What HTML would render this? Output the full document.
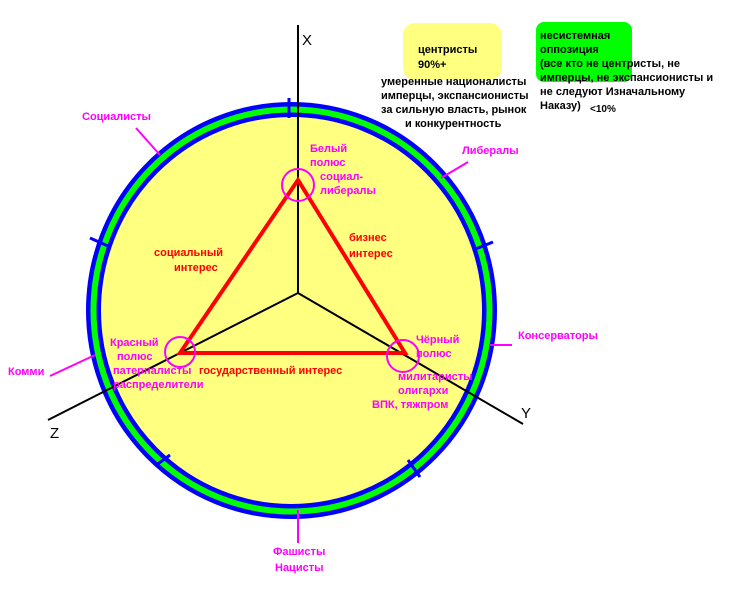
<!DOCTYPE html>
<html><head><meta charset="utf-8"><style>
body{margin:0;background:#fff;}
svg{display:block;}
text{font-family:"Liberation Sans","Noto Sans CJK SC",sans-serif;font-weight:bold;font-size:11px;}
.m{fill:#ff00ff;}
.r{fill:#ff0000;font-size:12.5px;}
.k{fill:#000;}
</style></head><body>
<svg width="750" height="600" viewBox="0 0 750 600">
<rect x="403" y="23" width="99" height="57" rx="12" fill="#ffff80"/>
<rect x="536" y="22" width="96" height="60" rx="8" fill="#00ff00"/>
<ellipse cx="291.5" cy="310.5" rx="198" ry="201" fill="#ffff80" stroke="#0000ff" stroke-width="15"/>
<ellipse cx="291.5" cy="310.5" rx="198" ry="201" fill="none" stroke="#00ff00" stroke-width="6"/>
<g stroke="#0000ff" stroke-width="3">
<line x1="289" y1="98" x2="289" y2="118"/>
<line x1="90" y1="238" x2="108" y2="246"/>
<line x1="473" y1="250" x2="493" y2="242"/>
<line x1="155" y1="466" x2="170" y2="455"/>
<line x1="408" y1="460" x2="420" y2="477"/>
</g>
<g stroke="#000" stroke-width="2" fill="none">
<line x1="298" y1="25" x2="298" y2="293"/>
<line x1="298" y1="293" x2="48" y2="420"/>
<line x1="298" y1="293" x2="523" y2="424"/>
</g>
<polygon points="298,180 180,353 405,353" fill="none" stroke="#ff0000" stroke-width="4"/>
<g stroke="#ff00ff" stroke-width="2" fill="none">
<circle cx="298" cy="185" r="16"/>
<circle cx="180" cy="352" r="15"/>
<circle cx="403" cy="356" r="16"/>
<line x1="136" y1="128" x2="160" y2="155"/>
<line x1="441" y1="178" x2="468" y2="162"/>
<line x1="50" y1="376" x2="95" y2="355"/>
<line x1="489" y1="345" x2="512" y2="345"/>
<line x1="298" y1="510" x2="298" y2="543"/>
</g>
<g class="k" font-size="14"><text x="302" y="45" style="font-weight:normal;font-size:15px">X</text>
<text x="50" y="438" style="font-weight:normal;font-size:15px">Z</text>
<text x="521" y="418" style="font-weight:normal;font-size:15px">Y</text></g>
<g class="k">
<text x="418" y="53">центристы</text>
<text x="418" y="68">90%+</text>
<text x="381" y="85">умеренные националисты</text>
<text x="381" y="99">имперцы, экспансионисты</text>
<text x="381" y="113">за сильную власть, рынок</text>
<text x="405" y="127">и конкурентность</text>
<text x="540" y="39">несистемная</text>
<text x="540" y="53">оппозиция</text>
<text x="540" y="67">(все кто не центристы, не</text>
<text x="540" y="81">имперцы, не экспансионисты и</text>
<text x="540" y="95">не следуют Изначальному</text>
<text x="540" y="109">Наказу)</text>
<text x="590" y="112" style="font-size:10px">&lt;10%</text>
</g>
<g class="m">
<text x="82" y="120">Социалисты</text>
<text x="462" y="154">Либералы</text>
<text x="8" y="375">Комми</text>
<text x="518" y="339">Консерваторы</text>
<text x="273" y="555">Фашисты</text>
<text x="275" y="571">Нацисты</text>
<text x="310" y="152">Белый</text>
<text x="310" y="166">полюс</text>
<text x="320" y="180">социал-</text>
<text x="320" y="194">либералы</text>
<text x="110" y="346">Красный</text>
<text x="117" y="360">полюс</text>
<text x="113" y="374">патерналисты</text>
<text x="113" y="388">распределители</text>
<text x="416" y="343">Чёрный</text>
<text x="416" y="357">полюс</text>
<text x="398" y="380">милитаристы</text>
<text x="398" y="394">олигархи</text>
<text x="372" y="408">ВПК, тяжпром</text>
</g>
<g class="r">
<text x="154" y="256">социальный</text>
<text x="174" y="271">интерес</text>
<text x="349" y="241">бизнес</text>
<text x="349" y="257">интерес</text>
<text x="199" y="374">государственный интерес</text>
</g>
</svg>
</body></html>
